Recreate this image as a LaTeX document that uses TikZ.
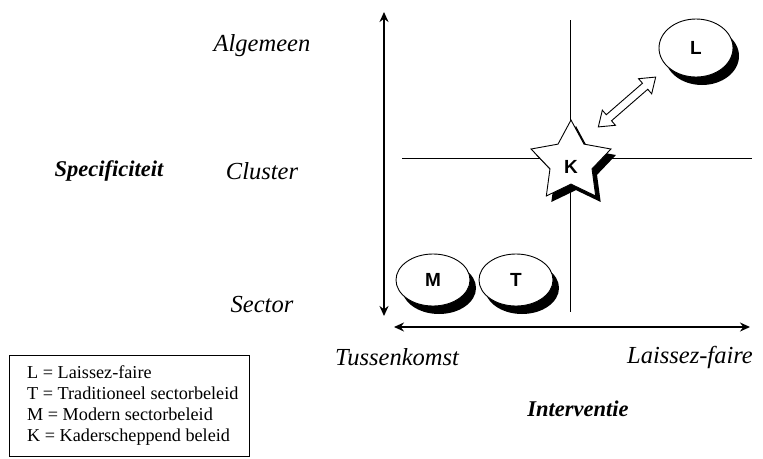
\documentclass[tikz,border=0pt]{standalone}
\usepackage{fontspec}
\setmainfont{Liberation Serif}
\newfontfamily\sansb{Liberation Sans}
\usetikzlibrary{shapes.geometric,arrows.meta}
\tikzset{
  axis/.style={line width=1.6pt,{Stealth[length=10pt,width=9pt]}-{Stealth[length=10pt,width=9pt]}},
  grid/.style={line width=0.9pt},
  lbl/.style={font=\fontsize{24.5}{28}\selectfont\itshape},
  blbl/.style={font=\fontsize{22.5}{26}\selectfont\bfseries\itshape},
  inl/.style={font=\sansb\bfseries\fontsize{19}{21}\selectfont},
  ell/.style={ellipse,draw,line width=0.9pt,fill=white,inner sep=0pt,inl},
  shad/.style={ellipse,fill=black,inner sep=0pt},
  leg/.style={font=\fontsize{18.2}{21}\selectfont,align=left,anchor=north west,inner sep=0pt}
}
\begin{document}
\begin{tikzpicture}[x=1pt,y=-1pt]
\useasboundingbox (0,0) rectangle (763,458);
% axes
\coordinate (vt) at (384,12);
\coordinate (vb) at (384,316);
\coordinate (hl) at (394,327);
\coordinate (hr) at (750,327);
\draw[axis] (vt) -- (vb);
\draw[axis] (hl) -- (hr);
% grid lines
\coordinate (gvt) at (570,20);
\coordinate (gvb) at (570,312);
\coordinate (ghl) at (402,158);
\coordinate (ghr) at (752,158);
\draw[grid] (gvt) -- (gvb);
\draw[grid] (ghl) -- (ghr);
% L ellipse
\node[shad,minimum width=74pt,minimum height=58pt] (Ls) at (702,56) {};
\node[ell,minimum width=74pt,minimum height=58pt] (L) at (696,48) {L};
% M and T ellipses
\node[shad,minimum width=74pt,minimum height=52pt] (Ms) at (439,288) {};
\node[ell,minimum width=74pt,minimum height=52pt] (M) at (433,280) {M};
\node[shad,minimum width=74pt,minimum height=52pt] (Ts) at (522,288) {};
\node[ell,minimum width=74pt,minimum height=52pt] (T) at (516,280) {T};
% star K
\node[star,star points=5,star point ratio=1.9,minimum size=84pt,fill=black,inner sep=0pt] (Ks) at (576,168) {};
\node[star,star points=5,star point ratio=1.9,minimum size=84pt,draw,line width=0.9pt,fill=white,inner sep=0pt] (K) at (571,162) {};
\node[inl] (Kt) at (571,167) {K};
% double hollow arrow
\coordinate (da) at (627,102);
\begin{scope}[shift={(da)},rotate=41]
\draw[line width=0.9pt,fill=white]
  (-38,0) -- (-24,-10) -- (-24,-4) -- (24,-4) -- (24,-10) -- (38,0)
  -- (24,10) -- (24,4) -- (-24,4) -- (-24,10) -- cycle;
\end{scope}
% labels
\node[lbl] (alg) at (262,46) {Algemeen};
\node[lbl] (clu) at (262,171) {Cluster};
\node[lbl] (sec) at (262,305) {Sector};
\node[blbl] (spec) at (109,171) {Specificiteit};
\node[lbl] (tus) at (397,357) {Tussenkomst};
\node[lbl] (lf) at (690,357) {Laissez-faire};
\node[blbl] (int) at (578,409) {Interventie};
% legend
\draw[line width=0.9pt] (9,355) rectangle (249,456);
\node[leg] (legt) at (27,365) {L = Laissez-faire\\T = Traditioneel sectorbeleid\\M = Modern sectorbeleid\\K = Kaderscheppend beleid};
\end{tikzpicture}
\end{document}
